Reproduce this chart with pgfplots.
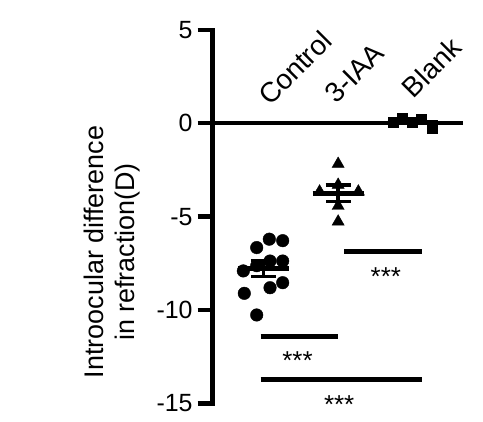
\documentclass[border=0pt]{standalone}
\usepackage{pgfplots}
\pgfplotsset{compat=1.18}
\usepackage{fontspec}
\setmainfont{Liberation Sans}
\begin{document}
\begin{tikzpicture}
\useasboundingbox (0bp,0bp) rectangle (483bp,422bp);
\begin{axis}[
  at={(212.7bp,18.7bp)}, anchor=south west,
  x=74.85bp, y=18.67bp,
  xmin=0.324, xmax=3.67, ymin=-15, ymax=5,
  clip=false,
  axis x line=none,
  axis y line=left,
  axis line style={-, line width=4.5bp, line cap=rect, black},
  ytick={-15,-10,-5,0,5},
  yticklabels={-15,-10,-5,0,5},
  tick style={line width=4.5bp, black},
  major tick length=15bp,
  tick align=outside,
  yticklabel style={font=\fontsize{25}{29}\selectfont, inner sep=0pt, xshift=-5bp},
]
% zero line
\addplot[line width=4.5bp, black] coordinates {(0.324,0) (3.67,0)};
% Control
\addplot[only marks, mark=*, mark size=6.3bp, black] coordinates {
(0.912,-6.66) (1.080,-6.21) (1.259,-6.29) (1.090,-7.38) (1.259,-7.38)
(0.912,-7.63) (0.733,-7.91) (1.090,-8.81) (1.259,-8.54) (0.746,-9.11)
(0.912,-10.27)};
% 3-IAA
\addplot[only marks, mark=triangle*, mark size=7bp, black] coordinates {
(2,-2.18) (2,-3.30) (1.752,-3.66) (2.27,-3.66) (2,-4.43) (2,-5.27)};
% Blank
\addplot[only marks, mark=square*, mark size=5bp, black] coordinates {
(2.737,0.03) (2.862,0.27) (2.995,0.03) (3.116,0.23) (3.263,-0.27)};
% means
\addplot[line width=4.5bp, black] coordinates {(0.66,-7.79) (1.34,-7.79)};
\addplot[line width=4.5bp, black] coordinates {(1.66,-3.75) (2.34,-3.75)};
\addplot[line width=4.5bp, black] coordinates {(2.66,0.06) (3.34,0.06)};
% SEM
\addplot[draw=none, mark=none, black,
  error bars/.cd, y dir=both, y explicit,
  error bar style={line width=3.5bp, black},
  error mark=|, error mark options={mark size=12.5bp, line width=3.5bp, black}]
  coordinates {(1,-7.79) +- (0,0.43) (2,-3.75) +- (0,0.45)};
% significance lines
\addplot[line width=4.5bp, black] coordinates {(2.082,-6.88) (3.124,-6.88)};
\addplot[line width=4.5bp, black] coordinates {(0.965,-11.43) (2.002,-11.43)};
\addplot[line width=4.5bp, black] coordinates {(0.965,-13.72) (3.124,-13.72)};
\node[font=\fontsize{26}{30}\selectfont] at (axis cs:2.637,-8.22) {***};
\node[font=\fontsize{26}{30}\selectfont] at (axis cs:1.457,-12.73) {***};
\node[font=\fontsize{26}{30}\selectfont] at (axis cs:2.014,-15.05) {***};
% category labels
\node[rotate=45, anchor=base west, inner sep=0pt, font=\fontsize{28}{32}\selectfont] at (axis cs:1.09,0.88) {Control};
\node[rotate=45, anchor=base west, inner sep=0pt, font=\fontsize{28}{32}\selectfont] at (axis cs:1.98,0.98) {3-IAA};
\node[rotate=45, anchor=base west, inner sep=0pt, font=\fontsize{28}{32}\selectfont] at (axis cs:3.01,1.28) {Blank};
\end{axis}
\node[rotate=90, align=center, font=\fontsize{27}{31}\selectfont] at (112bp,170bp) {Introocular difference\\in refraction(D)};
\end{tikzpicture}
\end{document}
